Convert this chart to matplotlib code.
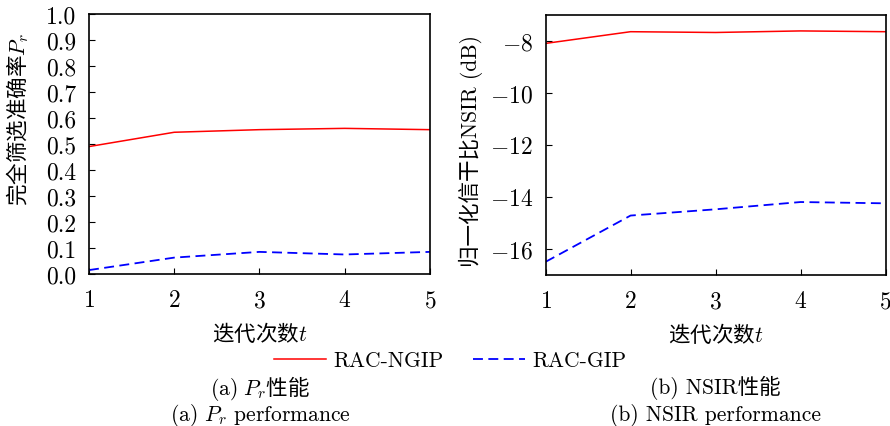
import matplotlib
matplotlib.use("Agg")
import matplotlib.pyplot as plt

# ---- data ----
t = [1, 2, 3, 4, 5]
pr_ngip = [0.49, 0.545, 0.555, 0.56, 0.555]
pr_gip = [0.015, 0.063, 0.085, 0.075, 0.085]
nsir_ngip = [-8.1, -7.65, -7.68, -7.62, -7.65]
nsir_gip = [-16.5, -14.72, -14.48, -14.2, -14.25]
pr_ticks = [0.0, 0.1, 0.2, 0.3, 0.4, 0.5, 0.6, 0.7, 0.8, 0.9, 1.0]
nsir_ticks = [-16, -14, -12, -10, -8]
names = ["RAC-NGIP", "RAC-GIP"]

plt.rcParams.update({
    "font.family": ["cmr10", "Noto Sans CJK SC"],
    "mathtext.fontset": "cm",
    "axes.formatter.use_mathtext": True,
    "axes.unicode_minus": True,
    "font.size": 15.5,
    "xtick.labelsize": 17,
    "ytick.labelsize": 17,
    "axes.linewidth": 1.2,
    "xtick.direction": "in",
    "ytick.direction": "in",
    "xtick.major.size": 4,
    "ytick.major.size": 4,
    "xtick.major.pad": 11,
    "ytick.major.pad": 9,
})
RED, BLUE = "#ff0000", "#0000ff"
CJK = ["Noto Sans CJK SC"]   # mixed CJK + math strings need a CJK base font
DASH = (5.5, 3)

fig = plt.figure(figsize=(8.9, 4.27), dpi=100)
axA = fig.add_axes([0.100, 0.356, 0.383, 0.609])
axB = fig.add_axes([0.613, 0.354, 0.382, 0.609])

axA.plot(t, pr_ngip, "-", color=RED, lw=1.1, label=names[0])
axA.plot(t, pr_gip, "--", color=BLUE, lw=1.3, dashes=DASH, label=names[1])
axA.set_xlim(1, 5); axA.set_ylim(0, 1)
axA.set_xticks(t); axA.set_yticks(pr_ticks)
axA.set_yticklabels([f"{v:.1f}" for v in pr_ticks])
axA.set_xlabel("迭代次数$t$", family=CJK)
axA.set_ylabel("完全筛选准确率$P_r$", family=CJK)
axA.xaxis.set_label_coords(0.5, -0.18)
axA.yaxis.set_label_coords(-0.17, 0.60)

axB.plot(t, nsir_ngip, "-", color=RED, lw=1.1)
axB.plot(t, nsir_gip, "--", color=BLUE, lw=1.3, dashes=DASH)
axB.set_xlim(1, 5); axB.set_ylim(-17, -7)
axB.set_xticks(t); axB.set_yticks(nsir_ticks)
axB.set_xlabel("迭代次数$t$", family=CJK)
axB.set_ylabel("归一化信干比NSIR (dB)")
axB.xaxis.set_label_coords(0.5, -0.18)
axB.yaxis.set_label_coords(-0.185, 0.48)

for ax in (axA, axB):
    ax.tick_params(top=False, right=False)

h, l = axA.get_legend_handles_labels()
fig.legend(h, l, loc="center", bbox_to_anchor=(0.506, 0.153), ncol=2,
           frameon=False, handlelength=2.4, columnspacing=1.4, handletextpad=0.35)

fig.text(0.292, 0.091, r"$\mathrm{(a)}\ P_r$性能", ha="center", va="center", family=CJK)
fig.text(0.292, 0.028, "(a) $P_r$ performance", ha="center", va="center")
fig.text(0.804, 0.091, "(b) NSIR性能", ha="center", va="center")
fig.text(0.804, 0.028, "(b) NSIR performance", ha="center", va="center")

fig.savefig("out.png", dpi=100)
